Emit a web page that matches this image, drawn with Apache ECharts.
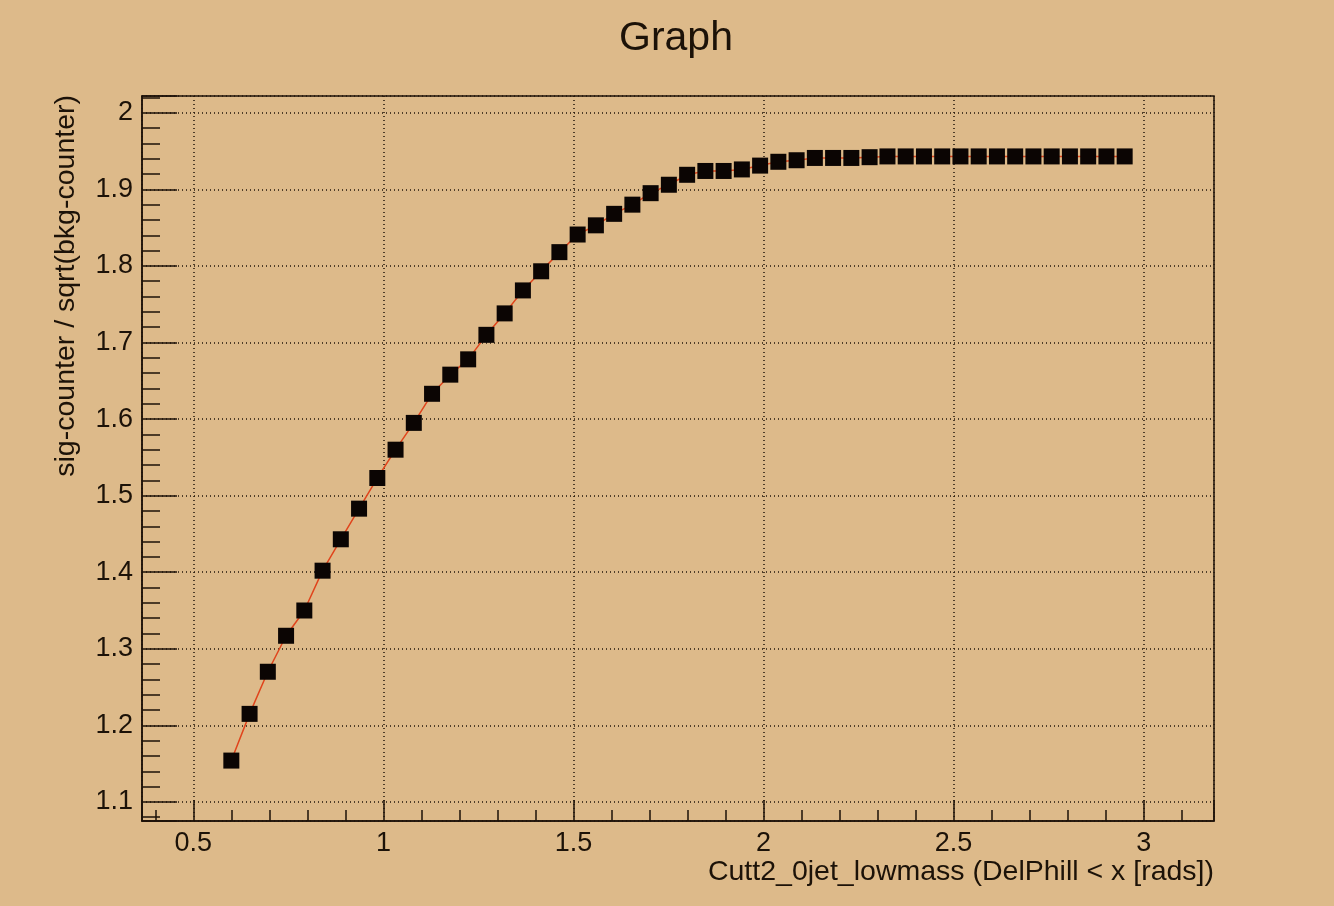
<!DOCTYPE html>
<html>
<head>
<meta charset="utf-8">
<title>Graph</title>
<script src="https://cdn.jsdelivr.net/npm/echarts@6/dist/echarts.min.js"></script>
<style>
  html, body { margin: 0; padding: 0; background: #ddba8a; }
  #chart { width: 1334px; height: 906px; }
</style>
</head>
<body>
<div id="chart"></div>
<script>
// Cut value on DelPhill (rads), scanned from 0.6 to 2.95
const cutValues = [
  0.600, 0.648, 0.696, 0.744, 0.792, 0.840, 0.888, 0.936, 0.984, 1.032,
  1.080, 1.128, 1.176, 1.223, 1.271, 1.319, 1.367, 1.415, 1.463, 1.511,
  1.559, 1.607, 1.655, 1.703, 1.751, 1.799, 1.847, 1.895, 1.943, 1.991,
  2.039, 2.087, 2.135, 2.183, 2.231, 2.279, 2.326, 2.374, 2.422, 2.470,
  2.518, 2.566, 2.614, 2.662, 2.710, 2.758, 2.806, 2.854, 2.902, 2.950
];
// sig-counter / sqrt(bkg-counter) for each cut
const significance = [
  1.154, 1.215, 1.270, 1.317, 1.350, 1.402, 1.443, 1.483, 1.523, 1.560,
  1.595, 1.633, 1.658, 1.678, 1.710, 1.738, 1.768, 1.793, 1.818, 1.841,
  1.853, 1.868, 1.880, 1.895, 1.906, 1.919, 1.924, 1.924, 1.926, 1.931,
  1.936, 1.938, 1.941, 1.941, 1.941, 1.942, 1.943, 1.943, 1.943, 1.943,
  1.943, 1.943, 1.943, 1.943, 1.943, 1.943, 1.943, 1.943, 1.943, 1.943
];

const titleText = 'Graph';
const xTitle = 'Cutt2_0jet_lowmass (DelPhill < x [rads])';
const yTitle = 'sig-counter / sqrt(bkg-counter)';

// Axis ranges padded by 10% of the data span, as a TGraph frame does
function padded(values) {
  const lo = Math.min(...values), hi = Math.max(...values);
  const pad = 0.1 * (hi - lo);
  return [lo - pad, hi + pad];
}
const [xMin, xMax] = padded(cutValues);
const [yMin, yMax] = padded(significance);

const points = cutValues.map((x, i) => [x, significance[i]]);

const ink = '#1c1208';
const fontFamily = '"Liberation Sans", Arial, Helvetica, sans-serif';

const gridBox = { left: 142, top: 96, width: 1072, height: 725 };

function axisCommon(step, majorLen, minorLen) {
  return {
    type: 'value',
    minInterval: step,
    maxInterval: step,
    axisLine: { show: true, onZero: false, lineStyle: { color: ink, width: 1.5 } },
    axisTick: { show: true, inside: true, length: majorLen, lineStyle: { color: ink, width: 1.5 } },
    minorTick: { show: true, splitNumber: 5, length: minorLen, lineStyle: { color: ink, width: 1.5 } },
    splitLine: { show: true, lineStyle: { color: '#22160a', width: 1.5, type: [1, 3] } },
    minorSplitLine: { show: false },
    axisLabel: {
      showMinLabel: false,
      showMaxLabel: false,
      color: ink,
      fontSize: 27,
      fontFamily: fontFamily
    }
  };
}

const xAxis = Object.assign(axisCommon(0.5, 21, 11), { min: xMin, max: xMax, splitNumber: 6 });
xAxis.axisLabel.margin = 9;
const yAxis = Object.assign(axisCommon(0.1, 35, 18), { min: yMin, max: yMax, splitNumber: 9 });
yAxis.axisLabel.margin = 9;

const chart = echarts.init(document.getElementById('chart'), null, { renderer: 'canvas' });
chart.setOption({
  backgroundColor: '#ddba8a',
  animation: false,
  grid: Object.assign({ show: true, borderColor: ink, borderWidth: 1.5, backgroundColor: 'transparent' }, gridBox),
  xAxis: xAxis,
  yAxis: yAxis,
  series: [{
    type: 'line',
    data: points,
    symbol: 'rect',
    symbolSize: 16,
    showAllSymbol: true,
    itemStyle: { color: '#0b0503' },
    lineStyle: { color: '#e0441c', width: 1.5 },
    z: 3
  }],
  graphic: [
    {
      type: 'text', x: 676, y: 39,
      style: { text: titleText, fill: ink, font: '41px ' + fontFamily, align: 'center', verticalAlign: 'middle' }
    },
    {
      type: 'text', x: 1214, y: 872,
      style: { text: xTitle, fill: ink, font: '28.5px ' + fontFamily, align: 'right', verticalAlign: 'middle' }
    },
    {
      type: 'text', x: 66, y: 95, rotation: Math.PI / 2,
      style: { text: yTitle, fill: ink, font: '28.5px ' + fontFamily, align: 'right', verticalAlign: 'middle' }
    }
  ]
});
</script>
</body>
</html>
